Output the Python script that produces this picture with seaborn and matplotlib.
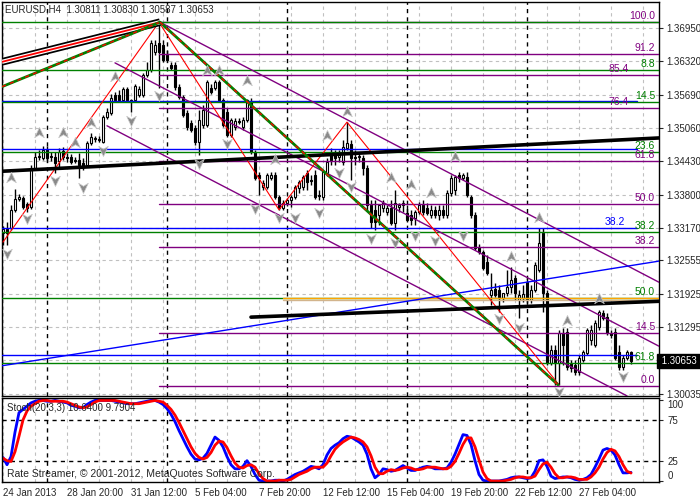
import matplotlib
matplotlib.use("Agg")
import matplotlib.pyplot as plt
from matplotlib.path import Path
import numpy as np
import pandas as pd
import seaborn as sns

# ── EURUSD H4 candles ────────────────────────────────────────────────
opens = [1.3307, 1.3315, 1.3317, 1.3351, 1.3372, 1.3374, 1.3362, 1.3356, 1.3430, 1.3451,
         1.3449, 1.3464, 1.3453, 1.3451, 1.3443, 1.3462, 1.3451, 1.3451, 1.3445, 1.3445,
         1.3440, 1.3436, 1.3477, 1.3485, 1.3485, 1.3479, 1.3527, 1.3534, 1.3568, 1.3568,
         1.3559, 1.3580, 1.3559, 1.3559, 1.3568, 1.3568, 1.3606, 1.3616, 1.3650, 1.3667,
         1.3663, 1.3644, 1.3625, 1.3625, 1.3583, 1.3565, 1.3534, 1.3515, 1.3506, 1.3479,
         1.3512, 1.3512, 1.3582, 1.3582, 1.3593, 1.3559, 1.3536, 1.3493, 1.3508, 1.3519,
         1.3508, 1.3521, 1.3555, 1.3460, 1.3417, 1.3394, 1.3394, 1.3411, 1.3417, 1.3375,
         1.3355, 1.3364, 1.3370, 1.3375, 1.3392, 1.3394, 1.3421, 1.3407, 1.3417, 1.3379,
         1.3375, 1.3421, 1.3460, 1.3455, 1.3451, 1.3441, 1.3468, 1.3476, 1.3451, 1.3451,
         1.3449, 1.3430, 1.3360, 1.3351, 1.3341, 1.3355, 1.3347, 1.3355, 1.3326, 1.3356,
         1.3360, 1.3345, 1.3341, 1.3336, 1.3347, 1.3360, 1.3355, 1.3341, 1.3351, 1.3341,
         1.3351, 1.3341, 1.3383, 1.3389, 1.3417, 1.3411, 1.3413, 1.3375, 1.3341, 1.3281,
         1.3271, 1.3252, 1.3190, 1.3201, 1.3199, 1.3184, 1.3194, 1.3205, 1.3222, 1.3180,
         1.3184, 1.3214, 1.3180, 1.3199, 1.3237, 1.3307, 1.3194, 1.3061, 1.3086, 1.3061,
         1.3118, 1.3120, 1.3061, 1.3057, 1.3044, 1.3067, 1.3080, 1.3105, 1.3095, 1.3129,
         1.3156, 1.3148, 1.3118, 1.3120, 1.3082, 1.3054, 1.3071, 1.30811]
highs = [1.3321, 1.3328, 1.3360, 1.3391, 1.3381, 1.3378, 1.3366, 1.3436, 1.3460, 1.3464,
         1.3472, 1.3472, 1.3460, 1.3460, 1.3468, 1.3470, 1.3459, 1.3457, 1.3451, 1.3459,
         1.3449, 1.3481, 1.3496, 1.3491, 1.3491, 1.3530, 1.3544, 1.3570, 1.3574, 1.3578,
         1.3583, 1.3583, 1.3561, 1.3589, 1.3585, 1.3610, 1.3631, 1.3672, 1.3672, 1.3706,
         1.3672, 1.3653, 1.3631, 1.3631, 1.3589, 1.3568, 1.3540, 1.3521, 1.3512, 1.3540,
         1.3549, 1.3597, 1.3589, 1.3597, 1.3597, 1.3563, 1.3544, 1.3525, 1.3525, 1.3525,
         1.3527, 1.3561, 1.3563, 1.3464, 1.3423, 1.3407, 1.3421, 1.3423, 1.3423, 1.3379,
         1.3370, 1.3374, 1.3379, 1.3398, 1.3407, 1.3417, 1.3426, 1.3417, 1.3426, 1.3389,
         1.3426, 1.3449, 1.3468, 1.3464, 1.3464, 1.3483, 1.3517, 1.3483, 1.3464, 1.3460,
         1.3455, 1.3436, 1.3370, 1.3370, 1.3360, 1.3370, 1.3360, 1.3370, 1.3389, 1.3364,
         1.3370, 1.3360, 1.3351, 1.3351, 1.3366, 1.3370, 1.3364, 1.3360, 1.3358, 1.3360,
         1.3360, 1.3389, 1.3417, 1.3417, 1.3423, 1.3421, 1.3423, 1.3379, 1.3347, 1.3286,
         1.3275, 1.3266, 1.3232, 1.3212, 1.3209, 1.3194, 1.3237, 1.3243, 1.3228, 1.3199,
         1.3209, 1.3222, 1.3209, 1.3252, 1.3317, 1.3317, 1.3199, 1.3095, 1.3095, 1.3124,
         1.3128, 1.3128, 1.3067, 1.3067, 1.3076, 1.3086, 1.3128, 1.3133, 1.3143, 1.3161,
         1.3161, 1.3156, 1.3124, 1.3128, 1.3095, 1.3076, 1.3086, 1.30830]
lows = [1.3285, 1.3285, 1.3313, 1.3347, 1.3368, 1.3353, 1.3347, 1.3353, 1.3426, 1.3445,
        1.3445, 1.3441, 1.3443, 1.3421, 1.3430, 1.3445, 1.3441, 1.3438, 1.3440, 1.3411,
        1.3426, 1.3432, 1.3474, 1.3479, 1.3479, 1.3477, 1.3523, 1.3530, 1.3555, 1.3555,
        1.3555, 1.3555, 1.3536, 1.3555, 1.3565, 1.3565, 1.3602, 1.3612, 1.3644, 1.3582,
        1.3631, 1.3631, 1.3616, 1.3578, 1.3561, 1.3527, 1.3502, 1.3498, 1.3474, 1.3455,
        1.3506, 1.3508, 1.3570, 1.3578, 1.3555, 1.3508, 1.3489, 1.3489, 1.3502, 1.3513,
        1.3502, 1.3517, 1.3457, 1.3407, 1.3379, 1.3389, 1.3391, 1.3407, 1.3372, 1.3351,
        1.3351, 1.3359, 1.3356, 1.3372, 1.3383, 1.3389, 1.3389, 1.3398, 1.3372, 1.3370,
        1.3370, 1.3415, 1.3436, 1.3436, 1.3441, 1.3436, 1.3464, 1.3407, 1.3436, 1.3441,
        1.3417, 1.3351, 1.3317, 1.3313, 1.3322, 1.3347, 1.3341, 1.3322, 1.3313, 1.3347,
        1.3347, 1.3328, 1.3322, 1.3322, 1.3343, 1.3341, 1.3341, 1.3336, 1.3336, 1.3332,
        1.3336, 1.3336, 1.3377, 1.3379, 1.3404, 1.3407, 1.3375, 1.3336, 1.3275, 1.3268,
        1.3237, 1.3228, 1.3171, 1.3186, 1.3158, 1.3177, 1.3188, 1.3194, 1.3180, 1.3146,
        1.3177, 1.3175, 1.3175, 1.3196, 1.3233, 1.3158, 1.3057, 1.3057, 1.3020, 1.3020,
        1.3057, 1.3048, 1.3044, 1.3039, 1.3039, 1.3063, 1.3076, 1.3095, 1.3091, 1.3124,
        1.3143, 1.3114, 1.3109, 1.3067, 1.3048, 1.3048, 1.3067, 1.30587]
closes = [1.3315, 1.3307, 1.3351, 1.3372, 1.3376, 1.3356, 1.3355, 1.3430, 1.3451, 1.3453,
          1.3464, 1.3449, 1.3451, 1.3440, 1.3460, 1.3451, 1.3449, 1.3441, 1.3443, 1.3436,
          1.3432, 1.3477, 1.3489, 1.3486, 1.3483, 1.3527, 1.3536, 1.3563, 1.3559, 1.3559,
          1.3580, 1.3559, 1.3555, 1.3585, 1.3580, 1.3606, 1.3616, 1.3667, 1.3663, 1.3650,
          1.3634, 1.3634, 1.3619, 1.3583, 1.3565, 1.3530, 1.3508, 1.3502, 1.3479, 1.3521,
          1.3540, 1.3593, 1.3574, 1.3593, 1.3559, 1.3512, 1.3493, 1.3521, 1.3519, 1.3517,
          1.3521, 1.3559, 1.3460, 1.3411, 1.3411, 1.3402, 1.3417, 1.3417, 1.3375, 1.3355,
          1.3364, 1.3370, 1.3375, 1.3394, 1.3404, 1.3413, 1.3404, 1.3406, 1.3375, 1.3378,
          1.3423, 1.3441, 1.3445, 1.3449, 1.3455, 1.3470, 1.3477, 1.3449, 1.3450, 1.3452,
          1.3430, 1.3360, 1.3328, 1.3328, 1.3360, 1.3364, 1.3355, 1.3326, 1.3364, 1.3360,
          1.3364, 1.3332, 1.3332, 1.3347, 1.3360, 1.3347, 1.3345, 1.3351, 1.3341, 1.3351,
          1.3341, 1.3383, 1.3411, 1.3413, 1.3411, 1.3417, 1.3379, 1.3341, 1.3279, 1.3271,
          1.3241, 1.3232, 1.3199, 1.3190, 1.3186, 1.3194, 1.3205, 1.3218, 1.3194, 1.3190,
          1.3192, 1.3180, 1.3199, 1.3247, 1.3288, 1.3194, 1.3061, 1.3086, 1.3061, 1.3118,
          1.3095, 1.3054, 1.3052, 1.3044, 1.3071, 1.3082, 1.3124, 1.3124, 1.3137, 1.3158,
          1.3146, 1.3118, 1.3114, 1.3071, 1.3054, 1.3071, 1.3082, 1.30653]

# ── Stochastic(20,3,3) ────────────────────────────────────────────────
stoch_main = [29, 20, 30, 60, 84, 88, 92, 96, 98, 99,
              99, 98, 98, 99, 98, 97, 96, 93, 92, 90,
              90, 94, 97, 99, 99, 99, 99, 99, 98, 97,
              96, 95, 95, 95, 96, 97, 98, 99, 99, 97,
              94, 89, 82, 73, 62, 52, 42, 33, 27, 26,
              28, 34, 44, 54, 50, 42, 30, 20, 15, 15,
              18, 25, 18, 8, 1, 0, 0, 0, 1, 1,
              0, 2, 5, 8, 10, 12, 15, 18, 17, 15,
              20, 32, 40, 44, 47, 52, 55, 54, 51, 48,
              44, 33, 15, 4, 8, 15, 14, 12, 13, 16,
              19, 16, 13, 13, 15, 17, 18, 17, 15, 15,
              15, 16, 23, 33, 45, 57, 56, 45, 25, 8,
              1, 0, 0, 0, 0, 1, 2, 4, 5, 5,
              4, 3, 4, 12, 25, 26, 18, 6, 3, 4,
              5, 5, 4, 2, 1, 2, 4, 8, 17, 27,
              38, 40, 38, 32, 20, 10, 10, 10.64]
stoch_signal = [28, 25, 24, 36, 55, 75, 86, 92, 95, 98,
                99, 99, 98, 98, 98, 98, 97, 95, 93, 91,
                90, 91, 94, 97, 99, 99, 99, 99, 99, 98,
                97, 96, 95, 95, 95, 96, 97, 98, 99, 98,
                97, 93, 88, 81, 72, 62, 52, 42, 34, 29,
                27, 29, 35, 44, 49, 48, 41, 31, 22, 17,
                16, 19, 20, 17, 9, 3, 0, 0, 0, 1,
                1, 1, 2, 5, 8, 10, 12, 15, 17, 17,
                17, 22, 31, 39, 44, 48, 51, 54, 53, 51,
                48, 42, 31, 17, 9, 9, 12, 14, 13, 14,
                16, 17, 16, 14, 14, 15, 17, 17, 17, 16,
                15, 15, 18, 24, 34, 45, 53, 53, 42, 26,
                11, 3, 0, 0, 0, 0, 1, 2, 4, 5,
                5, 4, 4, 6, 14, 21, 23, 17, 9, 4,
                4, 5, 5, 4, 2, 2, 2, 5, 10, 17,
                27, 35, 39, 37, 30, 20, 12, 9.79]

# ── axis labels ───────────────────────────────────────────────────────
date_ticks = [0, 16, 32, 48, 64, 80, 96, 112, 128, 144]
date_labels = ["24 Jan 2013", "28 Jan 20:00", "31 Jan 12:00", "5 Feb 04:00", "7 Feb 20:00",
               "12 Feb 12:00", "15 Feb 04:00", "19 Feb 20:00", "22 Feb 12:00", "27 Feb 04:00"]
week_starts = [11, 41, 71, 101, 131]
price_ticks = [1.36950, 1.36320, 1.35690, 1.35060, 1.34430, 1.33800, 1.33170,
               1.32555, 1.31925, 1.31295, 1.30665, 1.30035]
last_price = 1.30653

# ── fractals ─────────────────────────────────────────────────────────
frac_up_bar = [2, 9, 15, 18, 22, 28, 51, 54, 61, 68, 81, 86, 97, 102, 107, 113, 127, 134, 141, 149]
frac_up_price = [1.3411, 1.3496, 1.3496, 1.3477, 1.3515, 1.3602, 1.3614, 1.3614, 1.3595, 1.3445,
                 1.3491, 1.3536, 1.3411, 1.3398, 1.3383, 1.3451, 1.3262, 1.3336, 1.3141, 1.3182]
frac_dn_bar = [1, 6, 13, 20, 25, 32, 39, 49, 56, 63, 69, 73, 79, 84, 87, 92, 98, 103, 108, 115,
               124, 129, 139, 155]
frac_dn_price = [1.3269, 1.3335, 1.3407, 1.3394, 1.3464, 1.3521, 1.3568, 1.3440, 1.3477, 1.3354,
                 1.3337, 1.3337, 1.3347, 1.3423, 1.3396, 1.3298, 1.3290, 1.3303, 1.3294, 1.3303,
                 1.3146, 1.3129, 1.3008, 1.3037]

# ── fibonacci objects ────────────────────────────────────────────────
purple_fib = (1.3706, 1.3018)          # 100 -> 0
purple_levels = [0.0, 14.5, 38.2, 50.0, 61.8, 76.4, 85.4, 91.2, 100.0]
purple_from_bar = 39
green_fib = (1.3707, 1.2663)           # 0 -> 100 (expansion)
green_levels = [0.0, 8.8, 14.5, 23.6, 38.2, 50.0, 61.8]
blue_fib = (1.3706, 1.3076)            # 100 -> 0
blue_levels = [0.0, 38.2, 61.8, 76.4]
blue_to_bar = 158.5

# ── trend lines (bar, price) pairs ───────────────────────────────────
zigzag_bar = [0, 39, 69, 86, 139]
zigzag_price = [1.3290, 1.3706, 1.3351, 1.3517, 1.3020]
black_upper = ([-0.25, 164], [1.3424, 1.3487])
black_lower = ([62, 164], [1.3148, 1.3178])
blue_trend = ([-0.25, 164], [1.3056, 1.3254])
band_line = ([-0.25, 39.25], [1.3631, 1.3706])
gann_lines = [([-0.25, 39.25], [1.3584, 1.3706]), ([39.25, 138.75], [1.3706, 1.3020])]
channel = [([39.25, 164], [1.3706, 1.3214]), ([28, 164], [1.3629, 1.3093]), ([26, 156], [1.3510, 1.2999])]
orange_lines = [([70, 164], [1.3185, 1.3185]), ([70, 164], [1.3181, 1.3181])]

PURPLE, GREEN, BLUE = "#800080", "#008000", "#0000ff"

sns.set_style("white")
plt.rcParams["font.family"] = ["Liberation Sans", "DejaVu Sans"]
plt.rcParams["font.size"] = 7

fig = plt.figure(figsize=(7, 5), dpi=100)
W, H = 700.0, 500.0
ax = fig.add_axes([2 / W, 1 - 396 / H, 657 / W, 394 / H])
ax2 = fig.add_axes([2 / W, 1 - 482 / H, 657 / W, 84 / H], sharex=ax)

bars = np.arange(len(closes))
XMIN, XMAX = -0.25, 164

# grid
for b in range(0, 165, 8):
    for a in (ax, ax2):
        a.axvline(b, color="#c0c0c0", lw=0.8, dashes=(3, 3), zorder=0)
for p in price_ticks:
    ax.axhline(p, color="#c0c0c0", lw=0.8, dashes=(3, 3), zorder=0)
for b in week_starts:
    for a in (ax, ax2):
        a.axvline(b, color="black", lw=1, dashes=(3, 3), zorder=1)

# candles
df = pd.DataFrame({"o": opens, "h": highs, "l": lows, "c": closes})
bull = df["c"] >= df["o"]
ax.vlines(bars, df["l"], df["h"], color="black", lw=1, zorder=3)
body_lo = np.minimum(df["o"], df["c"])
body_h = np.maximum(np.abs(df["c"] - df["o"]), 0.00002)
ax.bar(bars, body_h, bottom=body_lo, width=0.72,
       color=np.where(bull, "white", "black"), edgecolor="black", lw=0.8, zorder=3)


def fib_price(fib, lvl):
    top, bottom = fib
    return bottom + (top - bottom) * lvl / 100.0


# labels that would sit on top of another set's label are nudged left
purple_label_bar = {85.4: 156.5, 76.4: 156.5}

for lvl in blue_levels:
    p = fib_price(blue_fib, lvl)
    ax.plot([XMIN, blue_to_bar], [p, p], color=BLUE, lw=1, zorder=4)
ax.text(155.5, fib_price(blue_fib, 38.2) + 0.0002, "38.2", color=BLUE, ha="right",
        va="bottom", fontsize=7.5, zorder=5)

for lvl in purple_levels:
    p = fib_price(purple_fib, lvl)
    ax.plot([purple_from_bar, XMAX], [p, p], color=PURPLE, lw=1, zorder=4)
    ax.text(purple_label_bar.get(lvl, 163), p + 0.0002, f"{lvl:.1f}", color=PURPLE,
            ha="right", va="bottom", fontsize=7.5, zorder=5)

for lvl in green_levels:
    p = green_fib[0] - (green_fib[0] - green_fib[1]) * lvl / 100.0
    ax.plot([XMIN, XMAX], [p, p], color=GREEN, lw=1, zorder=4)
    if lvl > 0:
        ax.text(163, p + 0.0002, f"{lvl:.1f}", color=GREEN, ha="right", va="bottom",
                fontsize=7.5, zorder=6)

ax.plot(*orange_lines[0], color="#ffa500", lw=1, zorder=4)
ax.plot(*orange_lines[1], color="#d2b48c", lw=1, zorder=4)

# trend lines
for xs, ys in channel:
    ax.plot(xs, ys, color=PURPLE, lw=1, zorder=4)
ax.plot(*blue_trend, color=BLUE, lw=1, zorder=4)
ax.plot(zigzag_bar, zigzag_price, color="red", lw=0.8, zorder=4)
ax.plot(*black_upper, color="black", lw=2.6, zorder=4)
ax.plot(*black_lower, color="black", lw=2.6, zorder=4)
ax.plot(*band_line, color="black", lw=5.5, zorder=4, solid_capstyle="butt")
ax.plot(*band_line, color="white", lw=3, zorder=4, solid_capstyle="butt")
ax.plot(*band_line, color="red", lw=1.3, zorder=4)
for xs, ys in gann_lines:
    ax.plot(xs, ys, color=GREEN, lw=2, zorder=4)
    ax.plot(xs, ys, color="red", lw=1, dashes=(3, 3), zorder=4)

# fractal arrows
arrow_up = Path([(0, 1), (0.8, -0.7), (0, -0.2), (-0.8, -0.7), (0, 1)],
                [Path.MOVETO, Path.LINETO, Path.LINETO, Path.LINETO, Path.CLOSEPOLY])
arrow_dn = Path([(0, -1), (0.8, 0.7), (0, 0.2), (-0.8, 0.7), (0, -1)],
                [Path.MOVETO, Path.LINETO, Path.LINETO, Path.LINETO, Path.CLOSEPOLY])
ax.scatter(frac_up_bar, frac_up_price, marker=arrow_up, s=75, color="#8a8a8a",
           edgecolor="#c8c8c8", lw=0.5, zorder=5)
ax.scatter(frac_dn_bar, frac_dn_price, marker=arrow_dn, s=75, color="#8a8a8a",
           edgecolor="#c8c8c8", lw=0.5, zorder=5)

# main axis cosmetics
ax.set_xlim(XMIN, XMAX)
ax.set_ylim(1.29988, 1.37442)
ax.yaxis.tick_right()
ax.set_yticks(price_ticks)
ax.set_yticklabels(["" if p == 1.30665 else f"{p:.5f}" for p in price_ticks])
ax.tick_params(axis="y", direction="out", length=3, width=0.8, pad=2, labelsize=7, right=True)
ax.tick_params(axis="x", bottom=False, labelbottom=False)
for s in ax.spines.values():
    s.set_color("black")
    s.set_linewidth(1)
ax.text(1.0, last_price, " 1.30653 ", transform=ax.get_yaxis_transform(), ha="left",
        va="center", color="white", fontsize=7,
        bbox=dict(boxstyle="square,pad=0.2", fc="black", ec="black"), zorder=10, clip_on=False)

# stochastic panel
sns.lineplot(x=bars, y=stoch_main, ax=ax2, color=BLUE, lw=2)
sns.lineplot(x=bars, y=stoch_signal, ax=ax2, color="red", lw=2)
for lv in (25, 75):
    ax2.axhline(lv, color="black", lw=1, dashes=(3, 3), zorder=1)
ax2.set_ylim(-1.2, 102)
ax2.yaxis.tick_right()
ax2.set_yticks([0, 25, 75, 100])
ax2.set_yticklabels(["0", "25", "75", "100"])
for t in ax2.get_yticklabels():
    if t.get_text() == "100":
        t.set_va("top")
    elif t.get_text() == "0":
        t.set_va("bottom")
ax2.tick_params(axis="y", direction="out", length=3, width=0.8, pad=3, labelsize=7)
ax2.set_xticks(date_ticks)
ax2.set_xticklabels(date_labels, ha="left")
ax2.tick_params(axis="x", direction="out", length=3, width=0.8, pad=1, labelsize=7)
ax2.set_xlabel("")
ax2.set_ylabel("")
for s in ax2.spines.values():
    s.set_color("black")
    s.set_linewidth(1)
ax2.text(0.008, 0.88, "Stoch(20,3,3) 10.6400 9.7904", transform=ax2.transAxes,
         fontsize=7, va="center")
ax2.text(0.008, 0.1, "Rate Streamer, \u00a9 2001-2012, MetaQuotes Software Corp.",
         transform=ax2.transAxes, fontsize=7.5, va="center")

fig.text(5 / W, 1 - 10 / H, "EURUSD,H4  1.30811 1.30830 1.30587 1.30653", fontsize=7,
         va="center")

fig.savefig("out.png", dpi=100)
